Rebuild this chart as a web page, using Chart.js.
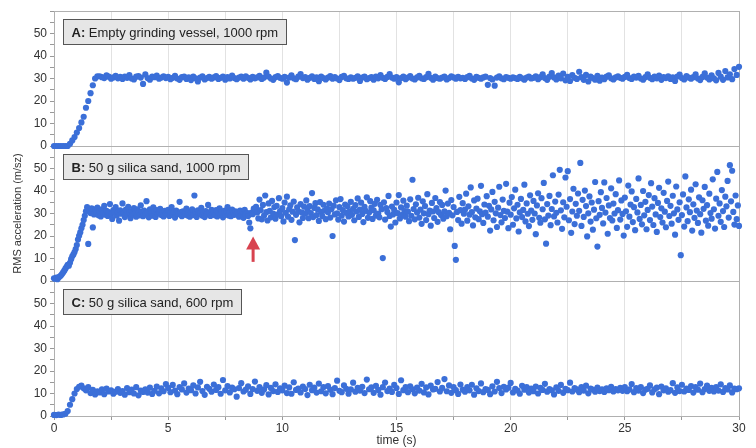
<!DOCTYPE html>
<html>
<head>
<meta charset="utf-8">
<script src="https://cdn.jsdelivr.net/npm/chart.js@4.4.1/dist/chart.umd.min.js"></script>
<style>
  html, body { margin: 0; padding: 0; background: #fff; }
  #wrap { width: 756px; height: 448px; }
</style>
</head>
<body>
<div id="wrap"><canvas id="chart" width="756" height="448"></canvas></div>
<script>
// panel captions: bold part + rest
const panelTitles = [
  ['A:', ' Empty grinding vessel, 1000 rpm'],
  ['B:', ' 50 g silica sand, 1000 rpm'],
  ['C:', ' 50 g silica sand, 600 rpm']
];
const xTickLabels = [0, 5, 10, 15, 20, 25, 30];
const yTickLabels = [0, 10, 20, 30, 40, 50];

// sample spacing (s)
const stepA = 0.1;
const stepB = 0.05;
const stepC = 0.1;

// arrow in panel B (time, from/to value)
const arrowTime = 8.72;
const arrowFrom = 8.5;
const arrowTo = 19.8;

// A: empty vessel, 1000 rpm
const accelA = [
  0,0,0,0,0,0,0,1,2.5,4,
  6,8,10.5,13,17,20,23.5,27,30,31,
  31.0,30.6,30.2,31.4,30.8,29.9,30.5,31.2,30.1,30.7,
  29.8,30.9,30.3,31.5,30.0,29.6,30.8,31.1,30.4,27.6,
  31.8,30.2,29.5,30.9,30.6,31.3,29.9,30.4,31.0,30.2,
  30.7,29.7,30.3,31.2,30.0,29.4,30.6,30.9,29.8,30.5,
  29.3,30.8,30.1,28.7,30.4,31.0,29.6,30.2,30.7,29.9,
  30.5,31.1,29.8,30.3,30.9,29.5,30.6,30.0,31.3,30.2,
  29.7,30.4,30.8,29.9,31.0,30.3,29.6,30.7,30.1,30.5,
  31.2,29.8,30.4,32.6,30.9,30.0,29.4,30.6,31.1,30.3,
  29.9,30.7,28.2,30.4,31.4,30.1,29.7,30.8,32.0,30.2,
  30.6,29.5,30.3,31.0,29.8,30.5,28.8,30.9,30.2,29.6,
  30.4,31.1,29.9,30.6,30.0,29.3,30.7,31.2,30.1,29.8,
  30.5,29.9,30.3,31.0,28.9,30.4,30.8,29.7,30.2,30.6,
  29.5,30.9,30.1,31.5,30.3,29.8,30.7,32.0,30.4,29.9,
  30.6,28.3,30.2,30.8,29.7,30.4,31.1,30.0,29.6,30.5,
  31.2,30.1,29.8,30.6,32.1,30.3,29.5,30.9,30.2,29.9,
  30.4,30.8,29.6,30.2,31.0,30.5,29.9,30.7,30.1,30.3,
  29.8,30.6,31.2,30.0,29.4,30.7,30.3,29.9,30.5,30.8,
  27.2,30.2,29.6,26.8,30.4,31.0,30.1,29.7,30.6,30.3,
  29.9,30.5,30.2,29.8,30.7,30.1,29.5,30.4,30.9,30.0,
  30.3,31.0,29.7,30.6,31.8,30.2,29.4,30.8,32.4,30.5,
  29.6,31.3,30.1,32.2,29.2,30.7,28.9,31.5,30.3,29.8,
  33.0,30.6,29.4,31.6,28.7,30.9,30.2,29.5,31.2,29.0,
  30.4,29.7,30.8,31.4,30.1,29.6,30.5,31.0,30.3,29.9,
  30.7,31.6,30.2,29.8,30.9,30.4,31.2,30.0,29.5,30.6,
  31.9,30.3,29.7,30.8,30.1,31.3,29.4,30.6,30.2,31.0,
  29.8,30.5,28.9,30.9,31.7,30.2,29.6,31.1,30.4,29.9,
  30.6,31.8,30.0,29.3,30.7,32.3,30.4,29.6,31.4,30.1,
  29.2,32.5,30.8,29.4,33.3,30.5,31.9,29.7,34.2,31.6,
  35.2
];

// B: 50 g silica sand, 1000 rpm
const accelB = [
  1.2,1.0,1.5,0.8,1.6,2.0,2.4,3.1,3.8,4.6,5.5,6.3,7.2,6.8,8.1,9.7,11.0,11.8,12.9,14.2,
  16.0,18.4,20.1,21.6,23.4,25.0,27.1,29.0,31.0,32.8,16.5,31.5,30.2,32.3,23.8,29.6,31.8,30.4,32.6,29.2,
  30.8,28.7,31.9,30.1,33.4,29.5,31.2,28.9,30.6,34.2,29.8,27.6,31.5,30.3,32.8,29.1,30.7,26.8,31.4,29.9,
  34.5,30.2,28.4,31.7,29.6,33.0,30.5,27.9,31.1,29.4,32.4,30.0,28.6,31.8,30.4,29.2,33.6,30.9,28.8,31.3,
  29.7,35.5,30.6,28.3,31.9,30.2,29.0,32.7,30.8,28.5,31.5,29.9,30.7,32.1,29.3,30.4,28.7,31.2,30.0,29.6,
  31.6,28.9,30.5,32.9,29.4,30.8,28.2,31.3,30.1,29.7,35.2,30.6,28.8,31.0,29.5,30.3,32.2,29.1,30.9,28.6,
  30.4,31.8,29.3,38.0,30.7,28.5,31.4,29.8,30.2,32.5,29.0,30.6,28.4,31.1,29.6,33.8,30.3,28.9,31.6,29.9,
  30.8,29.2,31.5,28.7,30.1,32.3,29.7,30.5,28.3,31.2,29.5,30.9,32.8,29.1,30.4,28.8,31.7,30.0,29.4,31.0,
  29.8,30.6,28.6,31.3,29.2,30.9,28.1,31.6,29.5,30.3,28.9,26.0,23.4,30.4,29.7,32.2,31.8,33.0,30.5,27.8,
  36.2,31.5,27.4,33.8,29.1,38.0,30.6,26.9,34.5,31.2,28.3,35.6,30.0,32.9,27.7,33.4,29.6,36.8,31.1,28.8,
  32.4,26.5,34.9,30.3,37.5,28.6,31.9,33.6,27.2,30.8,35.3,18.2,29.4,32.7,31.0,26.1,34.2,30.5,28.0,33.1,
  29.9,35.8,31.6,27.9,33.3,30.2,39.1,28.4,32.5,34.6,29.3,31.8,26.7,35.1,30.7,28.9,33.9,31.3,27.5,32.2,
  30.6,34.4,28.2,31.9,20.0,33.5,29.6,35.9,30.1,27.3,32.8,36.4,29.0,31.5,26.4,34.0,30.3,33.2,28.7,31.0,
  35.2,29.4,32.1,27.0,33.7,30.9,36.7,28.5,31.7,34.8,29.8,26.2,33.0,31.2,37.2,28.1,30.4,35.5,32.6,27.6,
  31.4,34.3,29.1,36.1,30.0,28.3,33.8,31.9,10.2,35.0,27.3,32.4,30.7,37.8,28.9,24.2,33.1,29.6,31.6,26.0,
  34.9,30.2,38.2,27.8,32.7,29.4,35.7,31.1,28.6,33.5,30.8,26.6,36.3,29.0,45.0,32.0,27.4,34.1,30.5,37.0,
  28.2,31.7,25.4,35.4,30.1,33.3,27.1,38.6,29.7,31.3,24.6,34.7,30.9,28.0,36.9,32.4,26.3,30.6,35.1,29.3,
  33.8,27.7,31.0,40.2,28.8,34.4,30.3,23.0,36.0,29.2,32.9,15.6,9.4,30.7,27.1,37.4,31.5,25.5,34.6,29.9,
  31.7,38.8,26.8,33.2,29.5,41.6,30.6,24.7,35.8,28.3,32.2,36.6,27.5,31.0,42.3,29.7,25.8,34.0,30.4,37.7,
  28.6,33.4,22.4,31.8,39.6,27.0,35.2,30.1,24.0,32.6,41.9,29.3,26.1,36.2,31.2,28.0,43.2,30.8,23.5,34.8,
  29.5,37.3,25.0,32.3,40.6,27.8,33.9,22.0,30.5,36.5,28.4,31.6,42.8,26.5,34.5,29.9,24.4,38.1,31.3,27.2,
  35.6,30.0,20.8,33.6,39.0,28.1,25.9,36.8,31.9,43.6,27.4,16.6,34.2,29.1,37.8,24.8,32.0,47.0,28.7,35.3,
  30.3,26.0,38.4,49.4,31.4,23.2,35.0,28.3,46.0,33.0,48.8,27.0,36.4,21.4,30.9,41.0,25.3,34.3,29.0,38.9,
  31.2,52.5,24.5,36.1,28.5,40.2,33.3,19.8,30.1,37.6,26.4,34.9,22.8,31.7,44.0,27.9,15.3,35.5,29.4,39.5,
  32.5,25.6,43.8,30.4,36.9,21.0,33.6,28.0,41.2,26.9,34.4,30.0,38.6,23.6,31.5,44.7,27.3,35.8,29.8,20.2,
  37.1,31.0,24.1,42.4,28.6,34.0,39.8,26.2,32.8,22.6,36.5,30.5,45.6,27.6,33.8,25.2,40.0,29.2,35.2,23.0,
  31.6,38.2,27.1,43.5,33.1,24.9,36.8,29.6,21.8,34.7,41.4,28.4,32.3,26.0,39.2,30.8,23.9,35.6,44.2,28.9,
  33.4,25.5,37.9,30.1,20.6,42.0,31.8,27.2,35.0,11.5,29.3,38.5,24.2,46.5,32.7,26.6,36.3,30.6,40.6,22.4,
  34.1,28.1,43.0,31.3,25.8,37.2,29.7,21.5,35.9,32.1,41.8,26.8,33.7,24.6,38.8,30.2,27.7,45.2,31.9,23.3,
  36.6,48.5,29.0,34.5,26.3,40.4,31.1,24.0,37.5,33.2,44.5,28.2,51.5,35.4,49.0,30.7,25.1,38.0,27.5,33.6,
  24.5
];

// C: 50 g silica sand, 600 rpm
const accelC = [
  0.5,0.4,0.6,0.5,0.7,1.0,2.2,5.0,7.5,10.0,
  12.0,13.0,13.5,12.3,11.4,12.8,10.2,11.6,9.6,11.0,
  10.5,11.8,9.7,12.2,10.9,11.4,9.9,10.8,12.0,10.3,
  11.1,9.5,12.4,10.6,11.7,10.0,12.8,9.2,11.3,10.7,
  11.9,10.4,12.6,9.8,11.2,13.1,10.1,12.3,11.0,14.2,
  12.5,10.6,13.8,11.3,9.7,12.9,11.8,14.5,10.4,12.2,
  11.5,13.6,10.0,12.7,15.2,11.1,9.4,13.0,12.1,10.8,
  14.0,11.6,12.8,9.9,16.0,11.4,13.3,10.5,12.6,11.9,
  8.6,12.4,14.6,10.9,11.7,13.2,9.8,12.0,15.3,11.2,
  12.9,10.3,11.8,13.7,9.6,12.5,11.1,14.1,10.7,12.3,
  11.4,13.5,10.2,12.7,9.9,15.0,11.6,12.2,10.5,13.1,
  12.0,9.3,13.9,11.5,12.6,10.4,14.4,11.0,12.8,10.1,
  13.3,11.7,9.7,12.4,15.7,11.2,10.6,13.6,12.1,9.9,
  11.8,14.8,10.8,12.5,11.3,13.0,10.2,16.2,11.9,12.7,
  10.3,13.4,11.6,9.5,12.8,14.9,11.1,12.2,10.7,13.8,
  12.4,9.8,15.9,11.5,12.9,10.6,13.2,11.9,10.1,12.6,
  11.3,14.3,10.5,12.7,9.6,13.5,11.8,12.1,15.1,10.9,
  12.5,16.4,11.0,13.6,10.3,12.8,11.5,9.8,14.0,11.7,
  10.8,12.9,11.4,13.9,9.5,12.3,11.1,14.5,10.6,12.0,
  11.6,9.7,13.2,10.9,15.2,12.4,10.2,13.0,11.8,12.6,
  14.7,10.5,12.1,11.3,9.9,13.4,11.7,12.8,10.4,12.2,
  11.0,13.1,10.0,12.5,11.6,14.3,10.8,12.0,11.4,9.6,
  12.7,11.2,13.8,10.3,12.1,11.5,14.8,10.9,12.4,11.8,
  10.6,12.9,11.3,13.5,10.1,12.2,11.7,10.8,12.6,11.1,
  11.9,10.7,12.3,11.5,13.0,10.9,12.0,11.4,12.5,11.2,
  12.8,11.0,11.8,14.2,10.6,12.4,11.3,12.9,10.2,11.7,
  12.1,13.6,10.5,11.9,12.6,9.7,13.1,11.4,12.3,10.8,
  11.5,14.6,10.3,12.7,11.1,13.9,10.9,12.2,11.6,13.3,
  10.4,12.8,11.7,14.4,10.6,12.0,13.5,11.2,12.5,10.9,
  12.9,11.3,14.1,10.7,12.4,11.8,13.6,10.5,12.2,11.9,
  12.3
];

const toPoints = (vals, step) => vals.map((v, i) => ({ x: +(i * step).toFixed(2), y: v }));

Chart.defaults.font.family = 'Arial, "Liberation Sans", sans-serif';
Chart.defaults.color = '#333';

const dotColor = '#3b6fd8';
const fontFam = 'Arial, "Liberation Sans", sans-serif';

const panelDecor = {
  id: 'panelDecor',
  beforeDatasetsDraw(chart) {
    const { ctx, chartArea } = chart;
    ctx.save();
    ctx.strokeStyle = '#b0b0b0';
    ctx.lineWidth = 1;
    ['yA', 'yB', 'yC'].forEach(id => {
      const s = chart.scales[id];
      ctx.strokeRect(Math.round(chartArea.left) + 0.5, Math.round(s.top) + 0.5,
        Math.round(chartArea.right - chartArea.left), Math.round(s.bottom - s.top));
    });
    ctx.restore();
  },
  afterDatasetsDraw(chart) {
    const { ctx, chartArea } = chart;
    ctx.save();
    // caption boxes
    ['yA', 'yB', 'yC'].forEach((id, k) => {
      const s = chart.scales[id];
      const [bold, rest] = panelTitles[k];
      ctx.font = 'bold 13px ' + fontFam;
      const wb = ctx.measureText(bold).width;
      ctx.font = '13px ' + fontFam;
      const wr = ctx.measureText(rest).width;
      const bx = Math.round(chartArea.left + 9) + 0.5;
      const by = Math.round(s.top + 8) + 0.5;
      const bw = Math.round(wb + wr + 16);
      const bh = 25;
      ctx.fillStyle = '#e6e6e6';
      ctx.fillRect(bx, by, bw, bh);
      ctx.strokeStyle = '#555';
      ctx.lineWidth = 1;
      ctx.strokeRect(bx, by, bw, bh);
      ctx.fillStyle = '#222';
      ctx.textBaseline = 'middle';
      ctx.textAlign = 'left';
      ctx.font = 'bold 13px ' + fontFam;
      ctx.fillText(bold, bx + 8, by + bh / 2 + 1);
      ctx.font = '13px ' + fontFam;
      ctx.fillText(rest, bx + 8 + wb, by + bh / 2 + 1);
    });
    // arrow in panel B
    const x = chart.scales.x.getPixelForValue(arrowTime);
    const yB = chart.scales.yB;
    const tip = yB.getPixelForValue(arrowTo);
    const tail = yB.getPixelForValue(arrowFrom);
    const head = 13;
    ctx.fillStyle = '#d8434f';
    ctx.strokeStyle = '#d8434f';
    ctx.lineWidth = 3;
    ctx.beginPath();
    ctx.moveTo(x, tail);
    ctx.lineTo(x, tip + head - 1);
    ctx.stroke();
    ctx.beginPath();
    ctx.moveTo(x, tip);
    ctx.lineTo(x - 7, tip + head);
    ctx.lineTo(x + 7, tip + head);
    ctx.closePath();
    ctx.fill();
    ctx.restore();
  }
};

const yScale = (weight, title) => ({
  type: 'linear',
  position: 'left',
  stack: 'panels',
  weight: weight,
  min: 0,
  max: 60,
  border: { display: false },
  grid: { drawOnChartArea: false, tickLength: 4, color: '#999' },
  ticks: {
    stepSize: 5,
    autoSkip: false,
    padding: 3,
    font: { size: 12 },
    color: '#333',
    callback: v => (yTickLabels.includes(v) ? v : '')
  },
  title: title ? {
    display: true,
    text: title,
    font: { size: 11 },
    color: '#333',
    padding: { top: 11, bottom: 0 }
  } : { display: false },
  afterFit: s => { s.width = 54; }
});

new Chart(document.getElementById('chart'), {
  type: 'scatter',
  data: {
    datasets: [
      { label: 'A', data: toPoints(accelA, stepA), yAxisID: 'yA' },
      { label: 'B', data: toPoints(accelB, stepB), yAxisID: 'yB' },
      { label: 'C', data: toPoints(accelC, stepC), yAxisID: 'yC' }
    ].map(d => Object.assign(d, {
      backgroundColor: dotColor,
      borderWidth: 0,
      pointRadius: 3.1,
      clip: false
    }))
  },
  options: {
    responsive: false,
    animation: false,
    layout: { padding: { top: 11, right: 17, left: 0, bottom: 0 } },
    plugins: { legend: { display: false }, tooltip: { enabled: false } },
    scales: {
      x: {
        type: 'linear',
        min: 0,
        max: 30,
        border: { display: false },
        grid: { color: '#e2e2e2', tickLength: 4, tickColor: '#999' },
        ticks: {
          stepSize: 2.5,
          autoSkip: false,
          maxRotation: 0,
          padding: 1,
          font: { size: 12 },
          color: '#333',
          callback: v => (xTickLabels.includes(v) ? v : '')
        },
        title: { display: true, text: 'time (s)', font: { size: 12 }, color: '#333', padding: { top: 0, bottom: 0 } },
        afterFit: s => { s.height = 32; }
      },
      yA: yScale(3, null),
      yB: yScale(2, 'RMS acceleration (m/sz)'),
      yC: yScale(1, null)
    }
  },
  plugins: [panelDecor]
});
</script>
</body>
</html>
